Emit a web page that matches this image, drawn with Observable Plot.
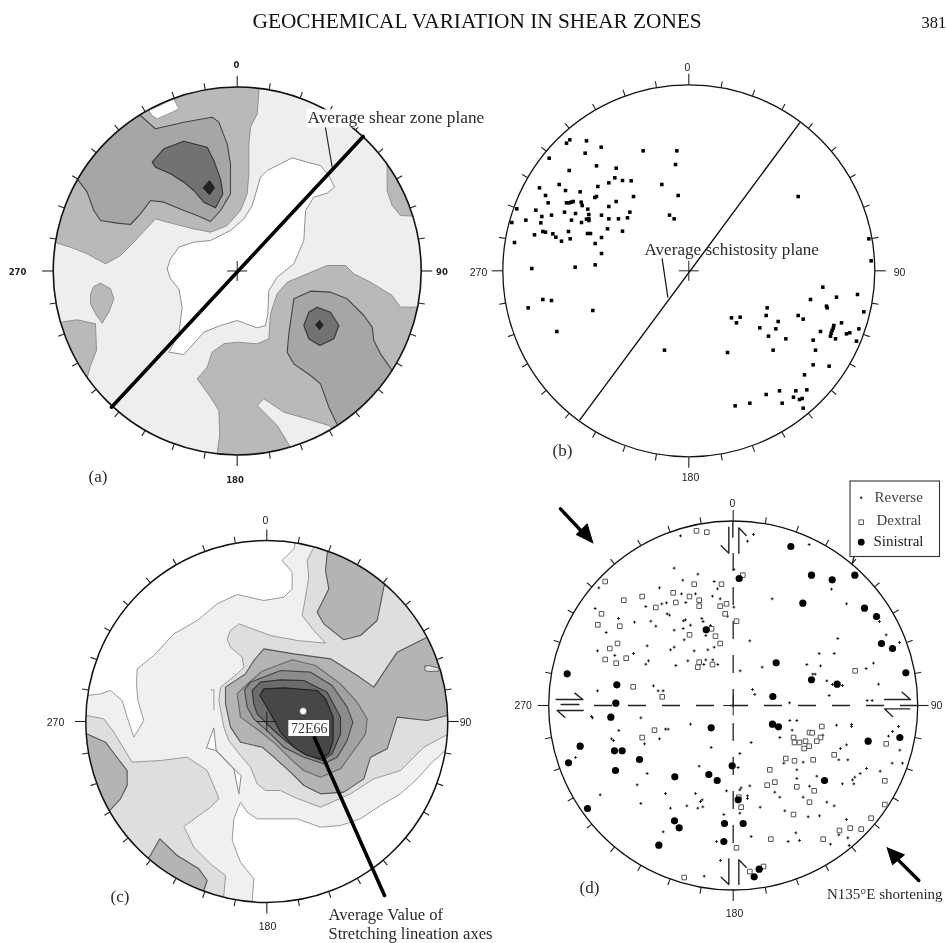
<!DOCTYPE html>
<html><head><meta charset="utf-8">
<style>html,body{margin:0;padding:0;background:#fff}svg{display:block}</style>
<script src="https://cdn.jsdelivr.net/npm/d3@7"></script>
<script src="https://cdn.jsdelivr.net/npm/@observablehq/plot@0.6"></script>
</head><body><script>
const azimuths = d3.range(0, 360, 10);
const cardinalLabels = [0, 90, 180, 270];

// Panel (a): poles contours
const aLevel1 = [
 [[70,575],[120,590],[170,610],[225,640],[270,615],[310,575],[375,505],[430,520],[490,535],[540,545],[590,525],[630,480],[650,430],[655,370],[655,280],[660,230],[680,190],[686,110],[686,70],[400,50],[100,250],[30,500],[40,570]],
 [[1070,340],[1070,420],[1085,465],[1110,495],[1150,497],[1210,480],[1120,320]],
 [[210,698],[240,715],[250,745],[235,785],[215,818],[195,790],[180,760],[180,730],[190,708]],
 [[90,815],[140,808],[195,820],[198,900],[180,945],[170,982],[100,960],[60,820]],
 [[560,1210],[568,1150],[565,1080],[540,1040],[500,985],[530,950],[545,905],[580,880],[620,875],[680,880],[715,865],[720,790],[740,730],[770,695],[830,670],[890,645],[945,645],[970,670],[1020,695],[1085,735],[1110,770],[1165,770],[1220,770],[1200,1000],[950,1200],[780,1240],[560,1240]]
];
const aNotches = [
 [[680,1065],[700,1045],[760,1085],[830,1105],[895,1125],[910,1135],[950,1200],[800,1230],[780,1190],[740,1125]]
];
const aHoles = [
 [[355,180],[430,145],[445,175],[425,185],[380,205],[365,195]]
];
const aLevel2 = [
 [[140,385],[170,425],[190,480],[210,510],[260,518],[300,522],[330,490],[360,450],[400,455],[460,480],[500,495],[540,513],[570,480],[600,430],[600,340],[590,280],[565,215],[545,200],[460,215],[375,235],[330,195],[300,150],[100,330]],
 [[790,745],[840,722],[900,725],[950,745],[1000,795],[1025,830],[1030,870],[1050,910],[1085,960],[1150,1000],[960,1160],[920,1122],[895,1070],[870,1000],[840,975],[790,940],[770,905],[775,850],[785,780]]
];
const aSliver = [[[1010,1065],[1030,1020],[1037,1040]]];
const aLevel3 = [
 [[365,335],[400,295],[460,272],[530,290],[550,330],[570,385],[577,430],[555,472],[520,455],[490,420],[460,395],[420,370],[375,350]],
 [[820,825],[835,785],[860,770],[900,785],[925,825],[910,865],[868,885],[835,865]]
];
const aLevel4 = [
 [[518,412],[537,390],[552,412],[537,433]],
 [[856,823],[867,810],[878,823],[867,838]]
];
const aBand = [[[410,655],[420,625],[445,590],[490,575],[540,570],[600,540],[640,505],[665,465],[690,380],[710,360],[750,340],[785,322],[830,335],[870,345],[895,375],[912,410],[890,428],[850,440],[825,480],[820,570],[790,640],[740,680],[715,720],[712,790],[705,825],[680,832],[620,810],[570,825],[520,845],[480,890],[460,912],[415,905],[445,850],[455,770],[445,715],[420,685]]];

// Panel (b): schistosity poles
const bPoles = [[258,278],[268,268],[318,271],[362,290],[314,308],[206,323],[488,301],[589,301],[585,342],[348,346],[407,353],[266,360],[403,382],[385,397],[426,390],[452,391],[236,402],[544,402],[352,408],[177,412],[255,420],[299,424],[195,435],[348,438],[343,441],[459,438],[593,435],[203,457],[258,457],[266,457],[272,455],[278,453],[302,455],[305,465],[407,453],[385,468],[322,476],[109,475],[166,479],[252,485],[285,489],[448,485],[184,498],[213,494],[363,494],[325,492],[567,494],[581,505],[94,516],[136,509],[181,517],[273,509],[303,516],[318,506],[325,505],[325,510],[385,505],[414,505],[441,502],[162,553],[187,543],[195,545],[217,550],[226,560],[264,543],[321,549],[330,549],[381,535],[426,542],[269,565],[243,572],[363,561],[344,579],[102,576],[363,609],[344,643],[284,650],[154,654],[187,747],[213,750],[143,772],[337,780],[229,843],
 [953,438],[1165,565],[1172,631],[1027,710],[1131,732],[990,747],[1068,740],[1038,767],[1040,772],[860,772],[753,802],[779,800],[768,817],[857,795],[953,795],[968,806],[893,813],[1150,784],[838,832],[886,835],[1083,817],[1135,835],[1060,825],[1058,833],[1055,840],[1052,848],[1050,857],[1020,843],[864,857],[916,865],[998,869],[1065,865],[1098,850],[1108,847],[1128,872],[878,899],[1005,899],[741,906],[552,899],[998,943],[1046,947],[972,973],[979,1018],[946,1021],[897,1021],[857,1032],[939,1040],[957,1047],[965,1044],[905,1058],[808,1058],[764,1066],[968,1073]];

// Panel (c): stretching lineation contours
const cLevel1 = [[[795,125],[790,145],[755,180],[785,215],[785,265],[760,290],[700,300],[620,282],[560,310],[500,360],[430,400],[370,465],[320,505],[318,550],[322,600],[340,660],[310,710],[290,650],[275,600],[240,570],[210,580],[170,585],[130,590],[130,800],[200,1050],[400,1200],[560,1230],[665,1230],[665,1205],[670,1135],[630,1085],[605,1020],[610,955],[630,905],[650,935],[680,955],[740,955],[800,955],[870,980],[930,975],[990,955],[1050,915],[1110,880],[1160,835],[1205,785],[1245,750],[1290,750],[1290,400],[1050,140],[795,100]]];
const cHoles = [
 [[528,742],[550,682],[557,750]],
 [[610,805],[632,825],[625,880]]
];
const cLevel2 = [
 [[850,140],[830,180],[835,230],[825,290],[815,345],[850,390],[885,428],[800,420],[720,405],[625,370],[600,390],[590,415],[600,440],[635,470],[640,500],[620,520],[570,560],[565,600],[580,680],[595,720],[630,765],[660,800],[680,850],[705,870],[750,870],[790,890],[870,920],[960,880],[1030,835],[1110,810],[1180,740],[1245,705],[1290,700],[1290,300],[1050,120],[850,110]],
 [[170,645],[220,655],[250,695],[305,785],[390,780],[470,770],[530,810],[560,880],[565,895],[540,920],[460,978],[490,1040],[540,1090],[585,1125],[580,1185],[500,1230],[200,1050],[130,800],[130,645]]
];
const cLevel3 = [
 [[358,1067],[388,1015],[440,1065],[505,1105],[530,1140],[520,1170],[450,1230],[320,1110]],
 [[168,700],[225,725],[255,765],[290,810],[290,855],[270,895],[238,930],[120,930],[120,700]],
 [[890,160],[885,210],[895,265],[860,335],[880,370],[940,418],[990,405],[1040,360],[1060,260],[1080,200],[900,120]],
 [[700,445],[790,460],[900,475],[980,525],[1030,560],[1100,455],[1190,410],[1290,400],[1290,640],[1250,645],[1190,660],[1100,650],[1070,745],[1020,770],[1000,835],[940,875],[870,880],[820,855],[780,815],[730,770],[695,740],[630,725],[600,680],[585,610],[585,560],[645,520],[670,480]]
];
const cSlot = [[[1183,497],[1195,495],[1225,503],[1225,512],[1195,513],[1183,510]]];
const cLevel4 = [[[620,580],[640,560],[695,512],[785,478],[855,495],[930,550],[980,605],[1010,655],[1005,700],[970,750],[930,805],[870,830],[820,810],[780,775],[735,730],[685,690],[630,650]]];
const cLevel5 = [[[642,568],[660,545],[750,510],[840,515],[905,555],[950,620],[967,665],[950,720],[920,770],[880,790],[820,770],[760,740],[720,700],[670,655],[650,620]]];
const cLevel6 = [[[665,570],[690,545],[750,538],[820,540],[890,575],[930,650],[930,700],[905,760],[875,780],[820,760],[770,725],[730,690],[680,640],[670,610]]];
const cLevel7 = [[[688,585],[700,565],[760,562],[860,570],[885,595],[908,650],[908,720],[895,760],[870,775],[830,765],[790,740],[750,695],[715,630]]];
const cMean = [[818,632]];

// Panel (d): fault-slip data, read in an upper and a lower window
const reverseUpper = [[510,166],[729,162],[711,182],[896,192],[491,263],[670,267],[562,281],[517,299],[611,303],[447,322],[265,322],[621,325],[963,326],[513,340],[555,340],[606,347],[629,355],[785,355],[406,378],[454,370],[468,367],[526,366],[1008,370],[254,384],[670,380],[470,400],[477,404],[324,414],[372,425],[421,422],[519,421],[525,418],[574,414],[578,423],[651,407],[1107,423],[436,437],[540,434],[518,444],[491,449],[287,456],[600,435],[586,465],[1127,463],[521,478],[982,474],[718,481],[1167,486],[410,496],[491,500],[480,508],[611,500],[592,508],[551,511],[261,511],[369,519],[313,525],[926,519],[971,519],[532,541],[586,538],[607,538],[414,541],[406,551],[580,552],[622,552],[889,552],[930,556],[496,555],[755,560],[1089,548],[1067,564],[689,571],[907,581],[914,581],[1104,611],[261,631],[429,616],[443,631],[458,631],[726,627],[733,642],[956,645],[949,601],[966,612],[996,615],[837,667],[1070,660],[1085,660]];
const reverseLower = [[243,48],[246,52],[391,52],[540,71],[325,90],[465,86],[473,86],[447,115],[402,130],[303,115],[309,120],[195,171],[602,141],[722,126],[688,159],[566,197],[683,201],[838,60],[859,60],[845,89],[808,111],[978,74],[1023,72],[1023,78],[1164,78],[1146,93],[1134,107],[937,104],[1008,133],[990,144],[985,178],[1012,178],[1168,149],[1145,188],[1176,188],[878,185],[820,188],[1068,204],[1049,219],[1033,230],[1026,238],[1030,250],[1109,212],[859,208],[859,234],[919,227],[996,250],[897,257],[718,256],[692,262],[688,268],[648,271],[793,275],[808,290],[878,290],[711,286],[711,294],[949,305],[971,316],[749,320],[823,331],[893,349],[927,346],[410,219],[380,253],[269,283],[465,279],[555,279],[575,298],[570,303],[391,309],[480,323],[529,316],[562,323],[577,319],[640,342],[688,338],[458,394],[722,408],[856,397],[833,423],[867,420],[1008,357],[1012,412],[985,403],[960,431],[1016,435],[618,423],[630,480],[581,527]];
const dextralUpper = [[558,151],[589,155],[284,303],[697,284],[551,311],[633,311],[488,337],[537,348],[340,359],[395,348],[566,359],[496,366],[566,377],[436,381],[629,377],[648,370],[273,400],[644,400],[678,422],[262,433],[328,437],[537,463],[603,445],[615,467],[629,489],[321,489],[298,504],[284,537],[347,533],[317,548],[566,545],[606,552],[562,560],[1034,571],[368,619],[455,649]];
const dextralLower = [[432,89],[395,111],[934,78],[897,96],[905,97],[849,111],[930,111],[852,126],[867,126],[885,122],[919,122],[881,144],[896,137],[1127,130],[971,163],[826,174],[852,181],[908,178],[778,208],[1123,241],[793,245],[770,254],[859,259],[911,271],[897,305],[692,320],[1123,312],[685,290],[849,342],[1082,353],[987,390],[1019,383],[1052,386],[781,416],[938,416],[678,442],[759,498],[718,513],[521,531]];
const sinistralUpper = [[841,198],[686,294],[903,284],[965,298],[1033,284],[877,368],[1062,383],[1098,408],[587,448],[1113,489],[1146,504],[797,547],[170,580],[1186,577],[903,598],[980,611],[319,613],[787,648],[316,668]];
const sinistralLower = [[301,50],[602,82],[786,71],[804,79],[209,137],[312,151],[335,151],[1073,122],[1168,111],[387,177],[174,187],[315,210],[665,196],[595,222],[493,229],[620,240],[942,240],[231,324],[683,298],[492,361],[506,382],[642,369],[698,369],[445,434],[640,423],[746,506],[731,529]];
const dArrowsUpper = [
 [[655,140],[655,218],[632,196]],
 [[685,218],[685,142],[707,165]],
 [[137,657],[217,657],[193,638]],
 [[152,672],[205,672]],
 [[1122,657],[1200,657],[1175,635]],
 [[1030,230],[1025,252]],
 [[667,122],[667,170]]
];
const dArrowsLower = [
 [[655,475],[655,552],[632,530]],
 [[685,552],[685,478],[707,500]],
 [[218,30],[140,30],[163,50]],
 [[1198,25],[1122,25],[1146,48]]
];
const shorteningUpper = {shaft:[[150,85],[225,165]], head:[[247,187],[197,162],[230,130]]};
const shorteningLower = {shaft:[[1225,540],[1160,475]], head:[[1130,442],[1182,463],[1146,493]]};

// ---- Reading windows (page position of each 3x reading) and the nets
const win = {
 a:{ox:30,oy:50}, b:{ox:480,oy:50}, c:{ox:30,oy:500},
 dU:{ox:510,oy:480}, dL:{ox:510,oy:700}
};
const nets = [
 {id:"a",cx:236.7,cy:270.5,r:184,sw:1.6,labelFont:"DejaVu Sans",labelWeight:"bold",labelSize:8.5,
  labels:[[236,65],[441.5,272],[234.5,480],[17,272]]},
 {id:"b",cx:688.3,cy:270.3,r:186,sw:1.3,labelFont:"Liberation Sans",labelWeight:"normal",labelSize:10.5,
  labels:[[687,67],[899,272],[690,477],[478,272]]},
 {id:"c",cx:266.3,cy:721,r:181,sw:1.5,labelFont:"Liberation Sans",labelWeight:"normal",labelSize:10.5,
  labels:[[265,520],[465,722],[267,926],[55,722]]},
 {id:"d",cx:732.7,cy:705,r:184.5,sw:1.3,labelFont:"Liberation Sans",labelWeight:"normal",labelSize:10.5,
  labels:[[732,503],[936,705],[734,913],[522.7,705]]}
];

// ---- Helpers
const at = w => p => [w.ox + p[0]/3, w.oy + p[1]/3];
const serif = "Liberation Serif";
const poly = (w, rings, fill, stroke, strokeWidth, tag) => rings.map(r => {
  const pts = [...r, r[0]].map(at(w));
  return Plot.line(pts, {x:d=>d[0], y:d=>d[1], fill, stroke, strokeWidth, ariaDescription:tag});
});
const seg = (w, pts, o) => Plot.line(pts.map(at(w)), {x:d=>d[0], y:d=>d[1], ...o});
const note = (x, y, text, o={}) => Plot.text([{x,y,text}], {x:"x", y:"y", text:"text", fontFamily:serif, fontSize:15, textAnchor:"start", lineAnchor:"middle", fill:"#2a2a2a", ...o});

const netFace = (n, fill) => Plot.dot([n], {x:"cx", y:"cy", r:n.r, fill, stroke:"none"});
const netFrame = n => {
  const rows = azimuths.map(az => {
    const t = az*Math.PI/180, big = az % 90 === 0, len = big ? 11 : 6.5;
    return {x1:n.cx+n.r*Math.sin(t), y1:n.cy-n.r*Math.cos(t), x2:n.cx+(n.r+len)*Math.sin(t), y2:n.cy-(n.r+len)*Math.cos(t)};
  });
  return [
    Plot.dot([n], {x:"cx", y:"cy", r:n.r, fill:"none", stroke:"#111", strokeWidth:n.sw}),
    Plot.link(rows, {x1:"x1", y1:"y1", x2:"x2", y2:"y2", stroke:"#222", strokeWidth:1.1}),
    Plot.link([{x1:n.cx-10,x2:n.cx+10,y1:n.cy,y2:n.cy},{x1:n.cx,x2:n.cx,y1:n.cy-10,y2:n.cy+10}],
      {x1:"x1", y1:"y1", x2:"x2", y2:"y2", stroke:"#222", strokeWidth:1}),
    Plot.text(n.labels.map((p,i)=>({x:p[0],y:p[1],t:String(cardinalLabels[i])})),
      {x:"x", y:"y", text:"t", fontFamily:n.labelFont, fontWeight:n.labelWeight, fontSize:n.labelSize, fill:"#222"})
  ];
};

const [A,B,C,D] = nets;
const G = {l1:"#b9b9b9", l2:"#a6a6a6", l3:"#727272"};
const marks = [
  // title
  note(252,21,"GEOCHEMICAL VARIATION IN SHEAR ZONES",{fontSize:21.3,fill:"#111"}),
  note(921,22,"381",{fontSize:16.5,fill:"#111"}),

  // (a)
  netFace(A,"#eeeeee"),
  ...poly(win.a,aLevel1,G.l1,"#8f8f8f",1,"contour a"),
  ...poly(win.a,aNotches,"#eeeeee","#8f8f8f",1,"contour a"),
  ...poly(win.a,aHoles,"#ffffff","#999",1,"contour a"),
  ...poly(win.a,aLevel2,G.l2,"#444",1.1,"contour a"),
  ...poly(win.a,aSliver,G.l1,"#888",1,"contour a"),
  ...poly(win.a,aLevel3,G.l3,"#333",1.1,"contour a"),
  ...poly(win.a,aLevel4,"#222","#222",1,"contour a"),
  ...poly(win.a,aBand,"#ffffff","#8f8f8f",1,"contour a"),
  ...netFrame(A),
  seg(win.a,[[243,1070],[998,258]],{stroke:"#000",strokeWidth:3.6}),
  Plot.rect([at(win.a)([830,178]).concat(at(win.a)([1345,232]))],{x1:d=>d[0],y1:d=>d[1],x2:d=>d[2],y2:d=>d[3],fill:"#fff"}),
  seg(win.a,[[885,232],[905,350]],{stroke:"#222",strokeWidth:1.1}),
  note(307,117,"Average shear zone plane",{fontSize:17.3}),
  note(88,476,"(a)",{fontSize:17}),

  // (b)
  ...netFrame(B),
  seg(win.b,[[298,1108],[957,218]],{stroke:"#111",strokeWidth:1.4}),
  seg(win.b,[[545,625],[562,740]],{stroke:"#111",strokeWidth:1.2}),
  Plot.dot(bPoles.map(at(win.b)),{x:d=>d[0],y:d=>d[1],symbol:"square",r:2,fill:"#000"}),
  note(644,249,"Average schistosity plane",{fontSize:17.1}),
  note(552,450,"(b)",{fontSize:17}),

  // (c)
  netFace(C,"#ffffff"),
  ...poly(win.c,cLevel1,"#f0f0f0","#999",1,"contour c"),
  ...poly(win.c,cHoles,"#ffffff","#888",1,"contour c"),
  seg(win.c,[[557,750],[610,805]],{stroke:"#888",strokeWidth:1.2}),
  seg(win.c,[[542,568],[550,568],[550,628]],{stroke:"#aaa",strokeWidth:1.2}),
  ...poly(win.c,cLevel2,"#dedede","#999",1,"contour c"),
  ...poly(win.c,cLevel3,"#b4b4b4","#555",1.1,"contour c"),
  ...poly(win.c,cSlot,"#dedede","#666",1,"contour c"),
  ...poly(win.c,cLevel4,"#a2a2a2","#666",1.1,"contour c"),
  ...poly(win.c,cLevel5,"#8c8c8c","#444",1.1,"contour c"),
  ...poly(win.c,cLevel6,"#6c6c6c","#333",1.1,"contour c"),
  ...poly(win.c,cLevel7,"#474747","#222",1.2,"contour c"),
  ...netFrame(C),
  Plot.dot(cMean.map(at(win.c)),{x:d=>d[0],y:d=>d[1],r:3.6,fill:"#fff",stroke:"#222",strokeWidth:0.6}),
  Plot.rect([at(win.c)([775,660]).concat(at(win.c)([897,708]))],{x1:d=>d[0],y1:d=>d[1],x2:d=>d[2],y2:d=>d[3],fill:"#fff"}),
  Plot.text([{x:308.7,y:728.5,t:"72E66"}],{x:"x",y:"y",text:"t",fontFamily:serif,fontSize:14,fill:"#333"}),
  seg(win.c,[[852,712],[1062,1185]],{stroke:"#000",strokeWidth:3.6}),
  note(328,914,"Average Value of",{fontSize:16.6}),
  note(328,933,"Stretching lineation axes",{fontSize:16.6}),
  note(110,896,"(c)",{fontSize:17}),

  // (d)
  ...netFrame(D),
  Plot.ruleY([705],{x1:594,x2:918,stroke:"#222",strokeWidth:1.3,strokeDasharray:"18,16"}),
  Plot.ruleX([732.7],{y1:553,y2:843,stroke:"#222",strokeWidth:1.3,strokeDasharray:"18,16"}),
  ...dArrowsUpper.map(p=>seg(win.dU,p,{stroke:"#222",strokeWidth:1.4})),
  ...dArrowsLower.map(p=>seg(win.dL,p,{stroke:"#222",strokeWidth:1.4})),
  Plot.dot(reverseUpper.map(at(win.dU)).concat(reverseLower.map(at(win.dL))),{x:d=>d[0],y:d=>d[1],symbol:"plus",r:1,stroke:"#222",strokeWidth:1}),
  Plot.dot(dextralUpper.map(at(win.dU)).concat(dextralLower.map(at(win.dL))),{x:d=>d[0],y:d=>d[1],symbol:"square",r:2.6,fill:"#fff",stroke:"#555",strokeWidth:1}),
  Plot.dot(sinistralUpper.map(at(win.dU)).concat(sinistralLower.map(at(win.dL))),{x:d=>d[0],y:d=>d[1],r:3.6,fill:"#000"}),
  seg(win.dU,shorteningUpper.shaft,{stroke:"#000",strokeWidth:3.4}),
  ...poly(win.dU,[shorteningUpper.head],"#000","#000",1,"arrow"),
  seg(win.dL,shorteningLower.shaft,{stroke:"#000",strokeWidth:3.4}),
  ...poly(win.dL,[shorteningLower.head],"#000","#000",1,"arrow"),
  note(826.5,894,"N135°E shortening",{fontSize:15}),
  note(579,887,"(d)",{fontSize:17}),

  // legend of (d)
  Plot.rect([{x1:850,y1:481,x2:939.5,y2:556.5}],{x1:"x1",y1:"y1",x2:"x2",y2:"y2",fill:"#fff",stroke:"#333",strokeWidth:1.1}),
  Plot.dot([[860.7,497.3]],{x:d=>d[0],y:d=>d[1],symbol:"plus",r:1,stroke:"#222",strokeWidth:1}),
  Plot.dot([[860.7,521.7]],{x:d=>d[0],y:d=>d[1],symbol:"square",r:2.6,fill:"#fff",stroke:"#555",strokeWidth:1}),
  Plot.dot([[860.7,541.7]],{x:d=>d[0],y:d=>d[1],r:3.4,fill:"#000"}),
  note(874,497,"Reverse",{fontSize:15,fill:"#444"}),
  note(876,520,"Dextral",{fontSize:15,fill:"#444"}),
  note(873,541,"Sinistral",{fontSize:15,fill:"#222"})
];

const svg = Plot.plot({
  width:946, height:943, margin:0,
  x:{domain:[0,946], range:[0,946], axis:null},
  y:{domain:[0,943], range:[0,943], axis:null},
  style:{background:"#fff", filter:"blur(0.35px)"},
  marks
});
// clip each contour stack to its net
const ns = "http://www.w3.org/2000/svg";
const defs = document.createElementNS(ns,"defs");
for (const n of [A,C]) {
  const cp = document.createElementNS(ns,"clipPath"); cp.id = "net-"+n.id;
  const c = document.createElementNS(ns,"circle");
  c.setAttribute("cx",n.cx); c.setAttribute("cy",n.cy); c.setAttribute("r",n.r);
  cp.appendChild(c); defs.appendChild(cp);
}
svg.appendChild(defs);
for (const n of [A,C]) svg.querySelectorAll(`g[aria-description="contour ${n.id}"]`).forEach(g=>g.setAttribute("clip-path",`url(#net-${n.id})`));
document.body.appendChild(svg);
</script></body></html>
